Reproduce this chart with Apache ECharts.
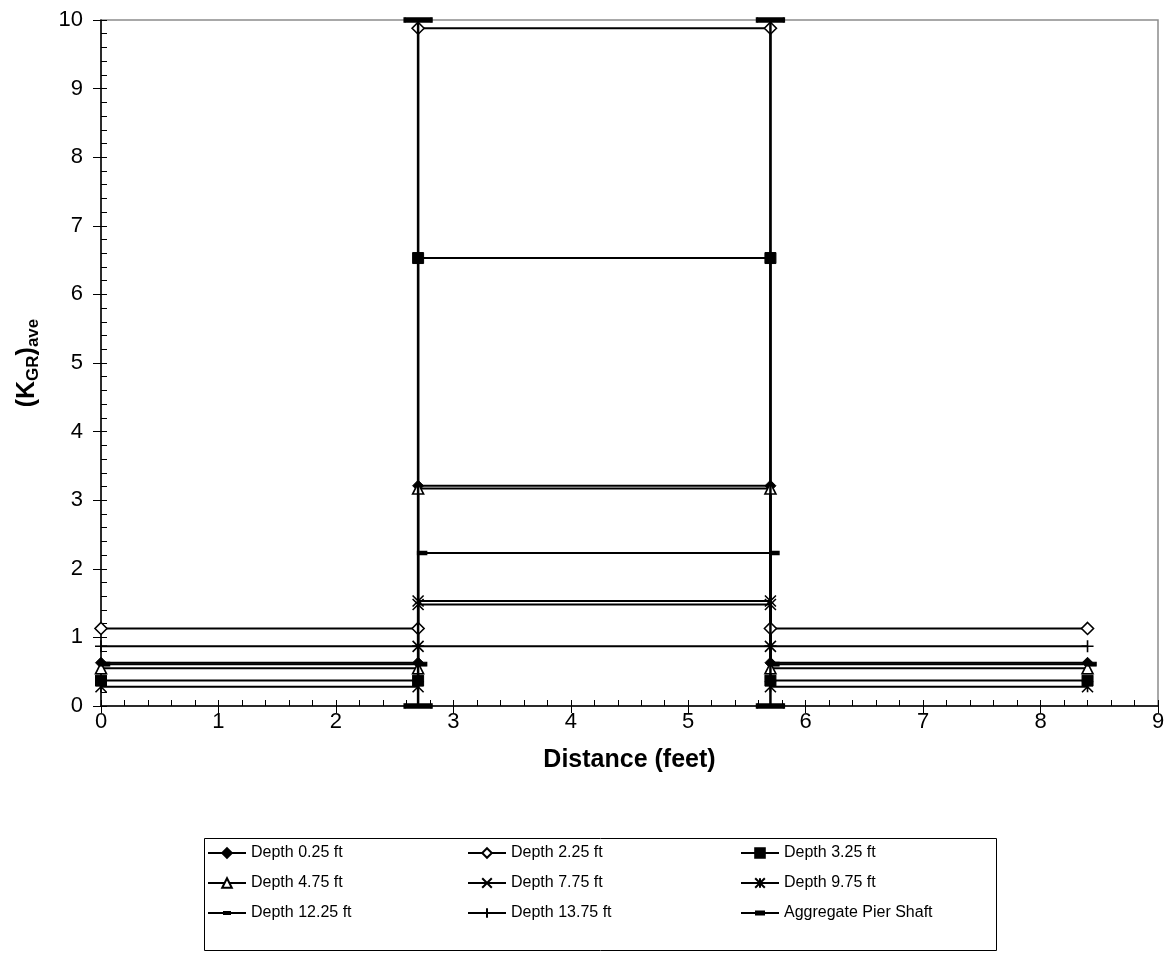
<!DOCTYPE html>
<html>
<head>
<meta charset="utf-8">
<title>(KGR)ave vs Distance</title>
<script src="https://cdn.jsdelivr.net/npm/echarts@6/dist/echarts.min.js"></script>
<style>
  html, body { margin: 0; padding: 0; background: #fff; }
  #chart { width: 1171px; height: 960px; }
</style>
</head>
<body>
<div id="chart"></div>
<script>
// Station positions across the section (feet): soil, pier edge, pier edge, soil
const distance = [0, 2.7, 2.7, 5.7, 5.7, 8.4];

// (KGR)ave at each station for each depth; null = no reading at that station
const depth025  = [0.63, 0.63, 3.21, 3.21, 0.63, 0.63];
const depth225  = [1.13, 1.13, 9.88, 9.88, 1.13, 1.13];
const depth325  = [0.37, 0.37, 6.53, 6.53, 0.37, 0.37];
const depth475  = [0.55, 0.55, 3.17, 3.17, 0.55, 0.55];
const depth775  = [null, 0.87, 1.53, 1.53, 0.87, null];
const depth975  = [0.28, 0.28, 1.48, 1.48, 0.28, 0.28];
const depth1225 = [0.61, 0.61, 2.23, 2.23, 0.61, 0.61];
const depth1375 = [0.87, 0.87, 0.87, 0.87, 0.87, 0.87];

// Aggregate pier shaft outline: left edge and right edge
const shaftLeftX  = [2.7, 2.7];
const shaftLeftY  = [0, 10];
const shaftRightX = [5.7, 5.7];
const shaftRightY = [10, 0];

const seriesNames = [
  'Depth 0.25 ft', 'Depth 2.25 ft', 'Depth 3.25 ft',
  'Depth 4.75 ft', 'Depth 7.75 ft', 'Depth 9.75 ft',
  'Depth 12.25 ft', 'Depth 13.75 ft', 'Aggregate Pier Shaft'
];

const yTicks = [0, 1, 2, 3, 4, 5, 6, 7, 8, 9, 10];
const xTicks = [0, 1, 2, 3, 4, 5, 6, 7, 8, 9];

const FONT = '"Liberation Sans", Arial, sans-serif';

function pairs(xs, ys) {
  const out = [];
  for (let i = 0; i < xs.length; i++) {
    if (ys[i] !== null && ys[i] !== undefined) out.push([xs[i], ys[i]]);
  }
  return out;
}

// Marker shapes
const pathX = 'path://M0,0L10,10M10,0L0,10';
const pathStar = 'path://M0,0L10,10M10,0L0,10M5,0L5,10';
const pathPlus = 'path://M5,0L5,10M0,5L10,5';
const pathBar = 'path://M0,0H10V4H0Z';

// Legend icons for the dash-marker series: a line with a short bar on it
const legendDashIcon = 'path://M0,5H38V7H0Z M15,4H23V8H15Z';
const legendShaftIcon = 'path://M0,5H38V7H0Z M14,3.5H24V8.5H14Z';
const legendIconStyle = { color: '#000', borderWidth: 0 };

const filled = { color: '#000', borderColor: '#000', borderWidth: 1 };
const hollow = { color: '#fff', borderColor: '#000', borderWidth: 1.6 };
const stroked = { color: '#000', borderColor: '#000', borderWidth: 1.6 };

function depthSeries(name, ys, symbol, size, itemStyle, extra) {
  return Object.assign({
    name: name,
    type: 'line',
    data: pairs(distance, ys),
    symbol: symbol,
    symbolSize: size,
    showSymbol: true,
    showAllSymbol: true,
    clip: false,
    lineStyle: { color: '#000', width: 2 },
    itemStyle: itemStyle,
    emphasis: { disabled: true }
  }, extra || {});
}

const series = [
  depthSeries(seriesNames[0], depth025, 'diamond', 11, filled),
  depthSeries(seriesNames[1], depth225, 'diamond', 12, hollow),
  depthSeries(seriesNames[2], depth325, 'rect', 11, filled),
  depthSeries(seriesNames[3], depth475, 'triangle', 11, hollow),
  depthSeries(seriesNames[4], depth775, pathX, 11, stroked),
  depthSeries(seriesNames[5], depth975, pathStar, 11, stroked),
  depthSeries(seriesNames[6], depth1225, pathBar, [9, 4], filled, { symbolOffset: [4, 0] }),
  depthSeries(seriesNames[7], depth1375, pathPlus, 12, stroked),
  {
    name: seriesNames[8], type: 'line', data: pairs(shaftLeftX, shaftLeftY),
    symbol: pathBar, symbolSize: [27, 5], clip: false, z: 5,
    lineStyle: { color: '#000', width: 2.5 }, itemStyle: filled,
    emphasis: { disabled: true }
  },
  {
    name: seriesNames[8], type: 'line', data: pairs(shaftRightX, shaftRightY),
    symbol: pathBar, symbolSize: [27, 5], clip: false, z: 5,
    lineStyle: { color: '#000', width: 2.5 }, itemStyle: filled,
    emphasis: { disabled: true }
  }
];

const legendCommon = {
  orient: 'vertical',
  top: 844,
  itemWidth: 38,
  itemHeight: 12,
  itemGap: 12,
  padding: 0,
  selectedMode: false,
  textStyle: { fontFamily: FONT, fontSize: 16, color: '#000', lineHeight: 18 }
};

const xMin = xTicks[0], xMax = xTicks[xTicks.length - 1];
const yMin = yTicks[0], yMax = yTicks[yTicks.length - 1];

const option = {
  animation: false,
  backgroundColor: '#fff',
  grid: {
    left: 101, right: 13, top: 20, bottom: 254,
    show: true, borderColor: '#8c8c8c', borderWidth: 1.5, backgroundColor: 'transparent'
  },
  xAxis: [
    {
      type: 'value', min: xMin, max: xMax, interval: 1, position: 'bottom',
      name: 'Distance (feet)', nameLocation: 'middle', nameGap: 42,
      nameTextStyle: { fontFamily: FONT, fontSize: 25, fontWeight: 'bold', color: '#000' },
      axisLine: { show: true, onZero: false, lineStyle: { color: '#000', width: 1.5 } },
      axisTick: { show: true, inside: false, length: 7, lineStyle: { color: '#000', width: 1 } },
      axisLabel: { fontFamily: FONT, fontSize: 22, color: '#000', margin: 5 },
      splitLine: { show: false }
    },
    {
      // tick marks running up into the plot from the axis line
      type: 'value', min: xMin, max: xMax, interval: 1, position: 'bottom', offset: -6,
      axisLine: { show: false, onZero: false },
      axisTick: { show: true, inside: false, length: 6, lineStyle: { color: '#000', width: 1 } },
      minorTick: { show: true, splitNumber: 5, length: 6, lineStyle: { color: '#000', width: 1 } },
      axisLabel: { show: false },
      splitLine: { show: false }
    }
  ],
  yAxis: [
    {
      type: 'value', min: yMin, max: yMax, interval: 1, position: 'left',
      name: '{b|(K}{s|GR}{b|)}{s|ave}', nameLocation: 'middle', nameGap: 59,
      nameTextStyle: {
        fontFamily: FONT, color: '#000',
        rich: {
          b: { fontFamily: FONT, fontSize: 25, fontWeight: 'bold', color: '#000', lineHeight: 29 },
          s: { fontFamily: FONT, fontSize: 17, fontWeight: 'bold', color: '#000', lineHeight: 17,
               padding: [11, 0, 0, 0], verticalAlign: 'bottom' }
        }
      },
      axisLine: { show: true, onZero: false, lineStyle: { color: '#000', width: 1.5 } },
      axisTick: { show: true, inside: false, length: 8, lineStyle: { color: '#000', width: 1 } },
      axisLabel: { fontFamily: FONT, fontSize: 22, color: '#000', margin: 18 },
      splitLine: { show: false }
    },
    {
      // tick marks running right into the plot from the axis line
      type: 'value', min: yMin, max: yMax, interval: 1, position: 'left', offset: -6,
      axisLine: { show: false, onZero: false },
      axisTick: { show: true, inside: false, length: 6, lineStyle: { color: '#000', width: 1 } },
      minorTick: { show: true, splitNumber: 5, length: 6, lineStyle: { color: '#000', width: 1 } },
      axisLabel: { show: false },
      splitLine: { show: false }
    }
  ],
  legend: [
    Object.assign({}, legendCommon, { left: 207, data: [seriesNames[0], seriesNames[3],
      { name: seriesNames[6], icon: legendDashIcon, itemStyle: legendIconStyle }] }),
    Object.assign({}, legendCommon, { left: 467, data: [seriesNames[1], seriesNames[4], seriesNames[7]] }),
    Object.assign({}, legendCommon, { left: 740, data: [seriesNames[2], seriesNames[5],
      { name: seriesNames[8], icon: legendShaftIcon, itemStyle: legendIconStyle }] })
  ],
  graphic: [
    {
      type: 'rect', left: 204, top: 838, z: -1,
      shape: { width: 792, height: 112 },
      style: { fill: '#fff', stroke: '#000', lineWidth: 1 }
    }
  ],
  series: series
};

const chart = echarts.init(document.getElementById('chart'), null, { renderer: 'canvas' });
chart.setOption(option);
</script>
</body>
</html>
